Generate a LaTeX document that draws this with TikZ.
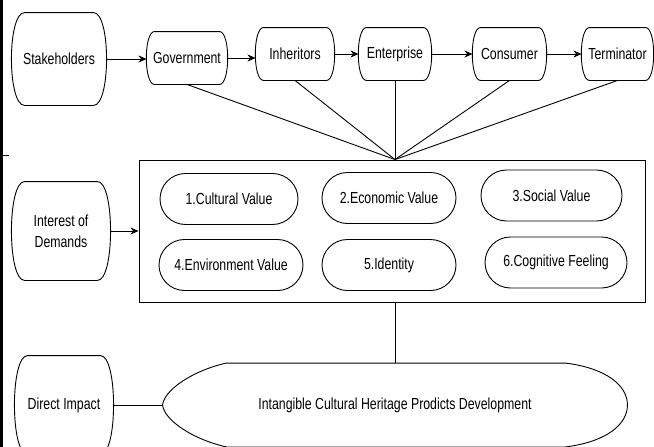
\documentclass[tikz,border=0pt]{standalone}
\usepackage{fontspec}
\setmainfont{Liberation Sans}[FakeStretch=0.77]
\usetikzlibrary{arrows.meta,shapes.misc,calc}

\newcommand{\bulgebox}[3]{%
  \draw ($(#1.north west)+(#2,0)$) -- ($(#1.north east)+(-#2,0)$)
    .. controls ($(#1.north east)+(#3,0)$) and ($(#1.south east)+(#3,0)$) .. ($(#1.south east)+(-#2,0)$)
    -- ($(#1.south west)+(#2,0)$)
    .. controls ($(#1.south west)+(-#3,0)$) and ($(#1.north west)+(-#3,0)$) .. cycle;}

\begin{document}
\begin{tikzpicture}[x=1pt,y=-1pt,line width=0.9pt,
    >={Stealth[length=8pt,width=7pt,inset=2.5pt]},
    every node/.style={font=\fontsize{16}{21}\selectfont},
    tab/.style={minimum height=52pt,inner sep=0pt},
    side/.style={align=center,inner sep=0pt},
    pill/.style={draw,rounded rectangle,minimum height=51pt,inner sep=0pt}]
  \useasboundingbox (0,0) rectangle (654,447);
  \draw[line width=2.5pt] (1.5,0) -- (1.5,447);
  \draw (0,155) -- (9,155);
  \node[side,minimum width=94pt,minimum height=92pt] (stake) at (59,59) {Stakeholders};
  \node[tab,minimum width=80pt] (gov) at (187,58) {Government};
  \node[tab,minimum width=78pt] (inh) at (295,54) {Inheritors};
  \node[tab,minimum width=72pt] (ent) at (395,54) {Enterprise};
  \node[tab,minimum width=73pt] (con) at (509.5,54) {Consumer};
  \node[tab,minimum width=71pt] (ter) at (617.5,54) {Terminator};
  \node[draw,minimum width=506pt,minimum height=142pt,inner sep=0pt] (box) at (392,231) {};
  \begin{scope}
  \node[pill,minimum width=138pt] (v1) at (229,199) {1.Cultural Value};
  \node[pill,minimum width=134pt] (v2) at (389,198) {2.Economic Value};
  \node[pill,minimum width=141pt] (v3) at (551.5,195.5) {3.Social Value};
  \node[pill,minimum width=144pt] (v4) at (231,265) {4.Environment Value};
  \node[pill,minimum width=134pt] (v5) at (389,265) {5.Identity};
  \node[pill,minimum width=142pt] (v6) at (556,262.5) {6.Cognitive Feeling};
  \end{scope}
  \node[side,minimum width=98pt,minimum height=98pt] (intr) at (61,231) {Interest of\\Demands};
  \node[side,minimum width=98pt,minimum height=98pt] (dir) at (64,405) {Direct Impact};
  \node[minimum width=464pt,minimum height=83pt,inner sep=0pt] (ich) at (395,405)
    {Intangible Cultural Heritage Prodicts Development};
  \foreach \n in {gov,inh,ent,con,ter} {\bulgebox{\n}{8}{3}}
  \foreach \n in {stake,intr,dir} {\bulgebox{\n}{13}{4.5}}
  \draw ($(ich.north west)+(64,0)$) -- ($(ich.north east)+(-62,0)$)
    .. controls ($(ich.north east)+(-22,5)$) and ($(ich.east)+(0,-20)$) .. (ich.east)
    .. controls ($(ich.east)+(0,20)$) and ($(ich.south east)+(-22,-5)$) .. ($(ich.south east)+(-62,0)$)
    -- ($(ich.south west)+(64,0)$)
    .. controls ($(ich.south west)+(32,-7)$) and ($(ich.west)+(2,16)$) .. (ich.west)
    .. controls ($(ich.west)+(2,-16)$) and ($(ich.north west)+(32,7)$) .. cycle;
  \draw[->] (stake.east) -- (stake.east -| gov.west);
  \draw[->] (gov.east) -- (gov.east -| inh.west);
  \draw[->] (inh) -- (ent);
  \draw[->] (ent) -- (con);
  \draw[->] (con) -- (ter);
  \coordinate (hub) at (ent |- box.north);
  \foreach \n in {gov,inh,ent,con,ter} {\draw (\n.south) -- (hub);}
  \draw[->] (intr.east) -- (intr.east -| box.west);
  \draw (hub |- box.south) -- (ich.north);
  \draw (dir.east) -- (ich.west);
\end{tikzpicture}
\end{document}
